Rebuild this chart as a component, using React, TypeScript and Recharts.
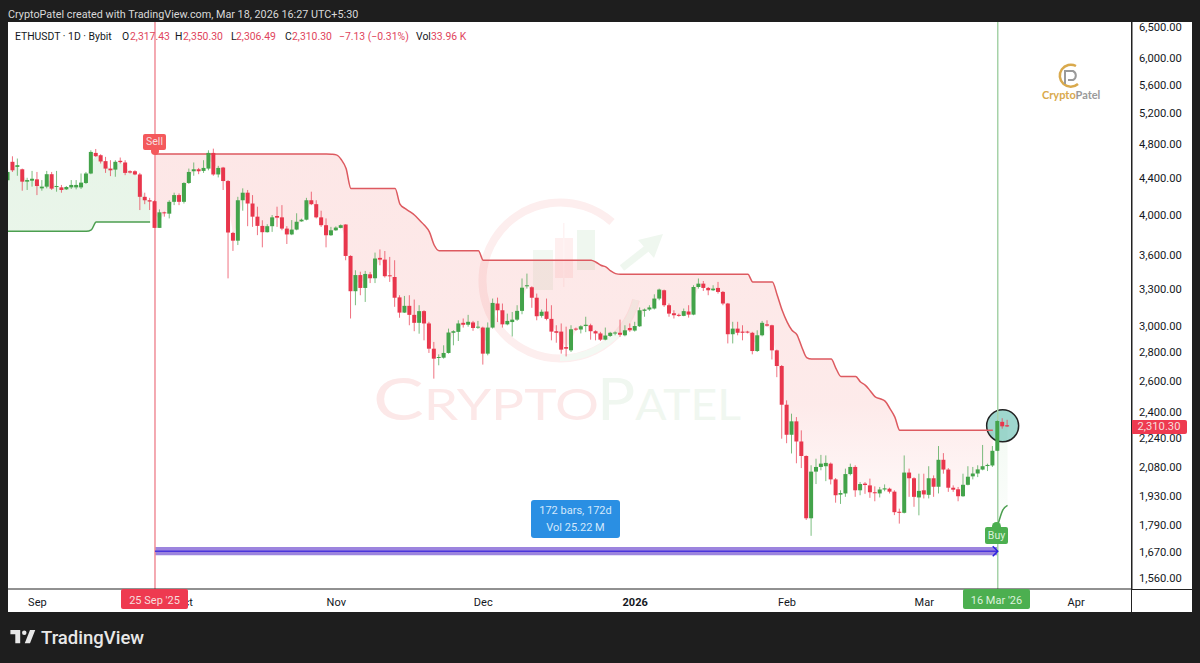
import React from "react";
import {
  Area,
  Bar,
  ComposedChart,
  Line,
  ReferenceArea,
  ReferenceDot,
  ReferenceLine,
  XAxis,
  YAxis,
} from "recharts";

// daily bars, first row is 30 days before the 25 Sep '25 sell signal
const opens = [
  4373, 4587, 4527, 4499, 4357, 4368, 4383, 4282, 4301, 4442,
  4297, 4293, 4271, 4293, 4293, 4293, 4342, 4450, 4694, 4666,
  4595, 4507, 4495, 4599, 4579, 4476, 4476, 4439, 4189, 4152,
  4142, 3865, 4024, 4010, 4135, 4208, 4135, 4342, 4476, 4499,
  4480, 4507, 4694, 4439, 4519, 4364, 3815, 3739, 4152, 4234,
  4117, 3979, 3885, 3822, 3882, 3986, 3972, 3858, 3800, 3848,
  3931, 3948, 4152, 4110, 3972, 3892, 3792, 3841, 3865, 3899,
  3594, 3280, 3420, 3308, 3427, 3392, 3576, 3560, 3418, 3403,
  3228, 3103, 3158, 3085, 3022, 3115, 3017, 2826, 2760, 2761,
  2795, 2945, 2952, 3022, 3007, 3025, 2985, 2985, 2790, 2985,
  3177, 3122, 3010, 3028, 3047, 3117, 3322, 3314, 3225, 3077,
  3112, 3053, 2957, 2954, 2838, 2814, 2977, 2970, 2997, 3003,
  2957, 2940, 2893, 2921, 2940, 2945, 2926, 2982, 2962, 2995,
  3117, 3128, 3136, 3218, 3288, 3163, 3098, 3085, 3077, 3112,
  3087, 3316, 3345, 3308, 3288, 3308, 3274, 3177, 2934, 2977,
  2954, 2954, 2945, 2809, 2926, 3010, 3003, 2814, 2702, 2444,
  2261, 2341, 2222, 2140, 1821, 2055, 2080, 2084, 2098, 2014,
  1936, 1942, 2042, 2080, 1958, 1992, 1983, 1948, 1942, 1962,
  1966, 1951, 1852, 1847, 2050, 2020, 1922, 1958, 1935, 2020,
  1976, 2119, 2066, 1971, 1963, 1928, 1986, 2030, 2045, 2066,
  2085, 2088, 2169, 2338, 2317.43,
];
const highs = [
  4507, 4653, 4626, 4507, 4401, 4480, 4468, 4375, 4480, 4468,
  4480, 4320, 4308, 4375, 4375, 4450, 4468, 4726, 4742, 4678,
  4646, 4606, 4606, 4638, 4606, 4487, 4487, 4457, 4234, 4178,
  4152, 4055, 4031, 4152, 4234, 4226, 4350, 4507, 4579, 4515,
  4606, 4726, 4746, 4539, 4527, 4375, 3825, 4189, 4282, 4264,
  4208, 4083, 3942, 3902, 3996, 4083, 4100, 3882, 3944, 4014,
  3958, 4178, 4245, 4152, 4041, 3961, 3875, 3880, 3900, 3902,
  3600, 3463, 3450, 3457, 3448, 3625, 3655, 3640, 3585, 3554,
  3246, 3240, 3246, 3210, 3163, 3122, 3030, 2876, 2785, 2851,
  2977, 2964, 3042, 3056, 3085, 3037, 3037, 2992, 3025, 3218,
  3226, 3177, 3095, 3108, 3163, 3390, 3433, 3322, 3260, 3128,
  3218, 3163, 3003, 3017, 2992, 3003, 2985, 3003, 3070, 3015,
  2964, 2952, 2985, 2952, 2955, 3047, 3003, 3017, 3030, 3145,
  3136, 3163, 3254, 3302, 3294, 3177, 3122, 3095, 3136, 3163,
  3331, 3390, 3368, 3316, 3331, 3360, 3282, 3182, 3030, 3030,
  3003, 2960, 2952, 2964, 3037, 3042, 3007, 2819, 2709, 2472,
  2388, 2367, 2287, 2143, 2089, 2125, 2146, 2143, 2104, 2021,
  1958, 2071, 2098, 2089, 2000, 2000, 2018, 1978, 1975, 1988,
  1971, 1958, 1867, 2143, 2071, 2025, 2044, 2044, 2084, 2035,
  2196, 2156, 2074, 1983, 1975, 2044, 2084, 2080, 2089, 2202,
  2098, 2196, 2347, 2360, 2350.3,
];
const lows = [
  4354, 4468, 4424, 4256, 4264, 4301, 4208, 4256, 4282, 4264,
  4245, 4234, 4264, 4275, 4271, 4275, 4331, 4442, 4646, 4567,
  4457, 4420, 4413, 4567, 4431, 4450, 4431, 4048, 4110, 4048,
  3865, 3865, 3979, 3961, 4100, 4100, 4117, 4331, 4424, 4442,
  4457, 4487, 4424, 4405, 4264, 3391, 3641, 3697, 4041, 3882,
  3875, 3793, 3675, 3819, 3825, 3875, 3841, 3707, 3793, 3841,
  3927, 3941, 4100, 3961, 3875, 3675, 3785, 3835, 3860, 3554,
  3056, 3163, 3246, 3190, 3350, 3350, 3508, 3398, 3360, 3150,
  3062, 3100, 3003, 2957, 2938, 2888, 2795, 2615, 2707, 2754,
  2790, 2851, 2883, 2985, 2992, 2960, 2975, 2712, 2778, 2977,
  3028, 2985, 3003, 2917, 3037, 3090, 3302, 3142, 3042, 3063,
  3042, 2888, 2870, 2790, 2770, 2802, 2960, 2940, 2950, 2893,
  2888, 2883, 2888, 2914, 2926, 2914, 2918, 2952, 2954, 2990,
  3070, 3117, 3128, 3204, 3150, 3070, 3056, 3070, 3074, 3063,
  3082, 3302, 3282, 3246, 3282, 3260, 3163, 2865, 2865, 2926,
  2888, 2940, 2785, 2802, 2918, 2992, 2748, 2625, 2238, 2212,
  2154, 2100, 2074, 1813, 1740, 1990, 2062, 2005, 1988, 1896,
  1890, 1925, 2035, 1925, 1933, 1940, 1920, 1903, 1922, 1953,
  1942, 1836, 1796, 1844, 1925, 1876, 1835, 1917, 1917, 1925,
  1942, 2044, 1950, 1950, 1903, 1925, 1983, 2014, 2026, 2062,
  2058, 2080, 2167, 2297, 2306.49,
];
const closes = [
  4468, 4487, 4547, 4357, 4375, 4390, 4308, 4301, 4442, 4279,
  4308, 4264, 4297, 4320, 4320, 4346, 4450, 4706, 4654, 4591,
  4507, 4487, 4587, 4583, 4457, 4461, 4439, 4189, 4152, 4138,
  3865, 4024, 4014, 4135, 4208, 4135, 4342, 4468, 4499, 4476,
  4515, 4694, 4439, 4515, 4364, 3819, 3739, 4152, 4234, 4117,
  3979, 3885, 3822, 3882, 3972, 3969, 3858, 3800, 3848, 3927,
  3948, 4152, 4110, 3972, 3892, 3792, 3841, 3868, 3892, 3594,
  3280, 3420, 3308, 3430, 3392, 3570, 3560, 3410, 3410, 3225,
  3103, 3158, 3085, 3022, 3115, 3017, 2826, 2754, 2766, 2795,
  2947, 2957, 3017, 3007, 3030, 2982, 2992, 2790, 2985, 3182,
  3122, 3010, 3037, 3047, 3117, 3310, 3331, 3225, 3074, 3110,
  3053, 2954, 2945, 2819, 2826, 2972, 2970, 2995, 3007, 2957,
  2940, 2893, 2924, 2945, 2947, 2930, 2964, 2964, 2997, 3122,
  3128, 3145, 3218, 3294, 3163, 3095, 3082, 3077, 3115, 3087,
  3316, 3345, 3308, 3288, 3302, 3274, 3177, 2934, 2977, 2945,
  2945, 2947, 2809, 2926, 3022, 3000, 2814, 2702, 2444, 2261,
  2341, 2222, 2140, 1821, 2055, 2080, 2098, 2102, 2014, 1933,
  1944, 2042, 2080, 1958, 1990, 1985, 1948, 1944, 1962, 1968,
  1951, 1850, 1847, 2050, 2020, 1925, 1955, 1937, 2020, 1976,
  2119, 2066, 1971, 1961, 1928, 1986, 2028, 2045, 2067, 2084,
  2091, 2169, 2343, 2311, 2310.3,
];

// trend line while short, one value per day from the sell signal
const sellTrend = [
  4682, 4682, 4682, 4682, 4682, 4682, 4682, 4682, 4682, 4682,
  4682, 4682, 4682, 4682, 4682, 4682, 4682, 4682, 4682, 4682,
  4682, 4682, 4682, 4682, 4682, 4682, 4682, 4682, 4682, 4682,
  4682, 4682, 4682, 4682, 4682, 4682, 4678, 4670, 4615, 4507,
  4279, 4279, 4279, 4279, 4279, 4279, 4279, 4279, 4279, 4279,
  4110, 4065, 4031, 3994, 3942, 3891, 3825, 3695, 3642, 3642,
  3642, 3642, 3642, 3642, 3642, 3642, 3642, 3554, 3554, 3554,
  3554, 3554, 3554, 3554, 3554, 3554, 3554, 3554, 3554, 3554,
  3554, 3554, 3554, 3554, 3554, 3554, 3554, 3554, 3554, 3554,
  3536, 3508, 3494, 3457, 3433, 3427, 3427, 3427, 3427, 3427,
  3427, 3427, 3427, 3427, 3427, 3427, 3427, 3427, 3427, 3427,
  3427, 3427, 3427, 3427, 3427, 3427, 3427, 3427, 3427, 3427,
  3427, 3427, 3360, 3360, 3360, 3360, 3360, 3246, 3122, 3030,
  2964, 2931, 2839, 2762, 2751, 2751, 2751, 2751, 2751, 2684,
  2630, 2630, 2630, 2630, 2592, 2570, 2533, 2494, 2482, 2467,
  2420, 2367, 2287, 2287, 2287, 2287, 2287, 2287, 2287, 2287,
  2287, 2287, 2287, 2287, 2287, 2287, 2287, 2287, 2287, 2287,
  2287, 2287,
];
const buyTrendBefore = [
  3831, 3831, 3831, 3831, 3831, 3831, 3831, 3831, 3831, 3831,
  3831, 3831, 3831, 3831, 3831, 3831, 3831, 3845, 3925, 3925,
  3925, 3925, 3925, 3925, 3925, 3925, 3925, 3925, 3925, 3925,
];
const buyTrendAfter = [1788, 1859, 1883];

const priceTicks = [
  1560, 1670, 1790, 1930, 2080, 2240, 2400, 2600, 2800, 3000, 3300, 3600, 4000,
  4400, 4800, 5200, 5600, 6000, 6500,
];
const monthTicks = [-24, 6, 37, 67, 98, 129, 157, 188];
const monthLabels = ["Sep", "Oct", "Nov", "Dec", "2026", "Feb", "Mar", "Apr"];

const UP = "#43a34a";
const DOWN = "#e8364c";
const INK = "#131722";
const FONT = "Roboto, sans-serif";

const rows = opens.map((open, i) => {
  const day = i - 30;
  const mid = (open + closes[i]) / 2;
  const sell = day >= 0 && day < sellTrend.length ? sellTrend[day] : null;
  const buy =
    day < 0 ? buyTrendBefore[i] : day >= 172 ? buyTrendAfter[day - 172] : null;
  return {
    day,
    open,
    high: highs[i],
    low: lows[i],
    close: closes[i],
    mid,
    sell,
    buy,
  };
});

function Candle(props: any) {
  const { x, y, width, height, payload } = props;
  const top = Math.min(y, y + height);
  const span = Math.abs(height);
  const { open, high, low, close } = payload;
  // bar spans low..high on the log axis, body is placed inside that span
  const at = (p: number) => top + (span * Math.log(high / p)) / Math.log(high / low);
  const bodyTop = at(Math.max(open, close));
  const bodyH = Math.max(at(Math.min(open, close)) - bodyTop, 1);
  const color = close >= open ? UP : DOWN;
  return (
    <g>
      <line
        x1={x + width / 2}
        x2={x + width / 2}
        y1={top}
        y2={top + span}
        stroke={color}
        strokeOpacity={0.7}
      />
      <rect x={x} y={bodyTop} width={width} height={bodyH} fill={color} />
    </g>
  );
}

function MonthTick(props: any) {
  const { x, y, payload } = props;
  const label = monthLabels[monthTicks.indexOf(payload.value)];
  return (
    <text
      x={x}
      y={y + 9}
      textAnchor="middle"
      fontFamily={FONT}
      fontSize={11}
      fontWeight={label === "2026" ? 700 : 400}
      fill={INK}
    >
      {label}
    </text>
  );
}

function Arrowhead(props: any) {
  const { cx, cy } = props;
  return (
    <path
      d={`M${cx - 5} ${cy - 5}L${cx} ${cy}L${cx - 5} ${cy + 5}`}
      fill="none"
      stroke="#2b22e0"
      strokeWidth={1.5}
    />
  );
}

function Label({ x, y, color = INK, children, size = 10.4, bold = false }: any) {
  return (
    <div
      style={{
        position: "absolute",
        left: x,
        top: y,
        color,
        fontSize: size,
        fontFamily: FONT,
        fontWeight: bold ? 700 : 400,
        whiteSpace: "nowrap",
        lineHeight: "14px",
      }}
    >
      {children}
    </div>
  );
}

function Tag({ x, y, w, h, bg, color = "#f6dede", children, size = 11, drop = 0 }: any) {
  return (
    <div
      style={{
        position: "absolute",
        left: x,
        top: y,
        width: w,
        height: h,
        lineHeight: `${h + drop}px`,
        background: bg,
        color,
        borderRadius: 2,
        textAlign: "center",
        fontSize: size,
        fontFamily: FONT,
        whiteSpace: "nowrap",
      }}
    >
      {children}
    </div>
  );
}

function Watermark() {
  return (
    <svg
      width={1200}
      height={663}
      style={{ position: "absolute", left: 0, top: 0 }}
    >
      <path
        d="M612 222A78 78 0 1 0 636 300"
        fill="none"
        stroke="#fdeeee"
        strokeWidth={8}
      />
      <path
        d="M636 300A78 78 0 0 1 560 358"
        fill="none"
        stroke="#f3f9f3"
        strokeWidth={6}
      />
      <rect x={533} y={250} width={20} height={40} fill="#f2f8f2" />
      <rect x={555} y={238} width={18} height={40} fill="#feefef" />
      <rect x={563} y={223} width={1.5} height={64} fill="#fef3f3" />
      <rect x={577} y={230} width={18} height={40} fill="#eff7ef" />
      <path d="M622 268L650 246" stroke="#eff7ef" strokeWidth={7} />
      <path d="M638 240L663 234L654 258Z" fill="#eff7ef" />
      <text
        x={373}
        y={420}
        fontFamily="Lato, sans-serif"
        fontSize={42}
        textLength={226}
        lengthAdjust="spacingAndGlyphs"
        fill="#fce8e8"
      >
        <tspan fontSize={58}>C</tspan>RYPTO
      </text>
      <text
        x={597}
        y={420}
        fontFamily="Lato, sans-serif"
        fontSize={42}
        textLength={144}
        lengthAdjust="spacingAndGlyphs"
        fill="#f0f7f0"
      >
        <tspan fontSize={58}>P</tspan>ATEL
      </text>
      {/* coin mark top right */}
      <path
        d="M1076 66A11 11 0 1 0 1078 84"
        fill="none"
        stroke="#d9a94c"
        strokeWidth={2.5}
      />
      <path
        d="M1065 84V71H1073A5 5 0 0 1 1073 80H1068"
        fill="none"
        stroke="#9a9a9a"
        strokeWidth={2}
      />
      <text
        x={1042}
        y={99}
        fontFamily="Lato, sans-serif"
        fontSize={11}
        fontWeight={700}
        fill="#d9a94c"
      >
        Crypto<tspan fill="#9a9a9a">Patel</tspan>
      </text>
    </svg>
  );
}

export default function App() {
  return (
    <div
      style={{
        position: "absolute",
        left: 0,
        top: 0,
        width: 1200,
        height: 663,
        background: "#1e1e1e",
        overflow: "hidden",
      }}
    >
      <Label x={8} y={8} color="#d9d9d9" size={10.8}>
        CryptoPatel created with TradingView.com, Mar 18, 2026 16:27 UTC+5:30
      </Label>
      <div
        style={{
          position: "absolute",
          left: 8,
          top: 22,
          width: 1184,
          height: 590,
          background: "#fff",
        }}
      />
      <Watermark />
      <div style={{ position: "absolute", left: 0, top: 0 }}>
        <ComposedChart
          width={1200}
          height={663}
          data={rows}
          margin={{ top: 22, right: 8, bottom: 51, left: 8 }}
        >
          <defs>
            <linearGradient id="sellFill" x1="0" y1="0" x2="0" y2="1">
              <stop offset="0%" stopColor="#ef5350" stopOpacity={0.14} />
              <stop offset="70%" stopColor="#ef5350" stopOpacity={0.12} />
              <stop offset="100%" stopColor="#ef5350" stopOpacity={0.03} />
            </linearGradient>
            <linearGradient id="buyFill" x1="0" y1="0" x2="0" y2="1">
              <stop offset="0%" stopColor="#4caf50" stopOpacity={0.13} />
              <stop offset="25%" stopColor="#4caf50" stopOpacity={0.12} />
              <stop offset="70%" stopColor="#4caf50" stopOpacity={0.07} />
              <stop offset="100%" stopColor="#4caf50" stopOpacity={0.02} />
            </linearGradient>
          </defs>
          <XAxis
            dataKey="day"
            type="number"
            domain={[-30, 199.4]}
            allowDataOverflow
            ticks={monthTicks}
            interval={0}
            height={23}
            tickLine={false}
            axisLine={{ stroke: "#222" }}
            tick={<MonthTick />}
          />
          <YAxis
            orientation="right"
            scale="log"
            type="number"
            domain={[1516, 6590]}
            allowDataOverflow
            ticks={priceTicks}
            interval={0}
            width={60}
            tickSize={0}
            tickMargin={7}
            tickLine={false}
            axisLine={{ stroke: "#222" }}
            tick={{ fontSize: 11.2, fontFamily: FONT, fill: INK }}
            tickFormatter={(v: number) =>
              v.toLocaleString("en-US", { minimumFractionDigits: 2 })
            }
          />
          <Area
            dataKey={(d: any) => (d.sell == null ? [null, null] : [d.mid, d.sell])}
            stroke="none"
            fill="url(#sellFill)"
            fillOpacity={1}
            isAnimationActive={false}
            dot={false}
            activeDot={false}
          />
          <Area
            dataKey={(d: any) => (d.buy == null ? [null, null] : [d.buy, d.mid])}
            stroke="none"
            fill="url(#buyFill)"
            fillOpacity={1}
            isAnimationActive={false}
            dot={false}
            activeDot={false}
          />
          <ReferenceLine x={0} stroke="#f08d98" strokeWidth={1.5} />
          <ReferenceLine x={172} stroke="#a6d2a8" strokeWidth={1.5} />
          <ReferenceArea
            x1={0}
            x2={172}
            y1={1655}
            y2={1690}
            fill="#8b6fd8"
            fillOpacity={0.85}
            stroke="none"
          />
          <ReferenceLine
            stroke="#4a35dc"
            strokeWidth={1.5}
            segment={[
              { x: 0, y: 1672 },
              { x: 172, y: 1672 },
            ]}
          />
          <ReferenceDot x={172} y={1672} shape={<Arrowhead />} />
          <ReferenceDot
            x={173}
            y={2314}
            r={16}
            fill="#5fbcae"
            fillOpacity={0.6}
            stroke="#222"
            strokeWidth={1.5}
            zIndex={200}
          />
          <Line
            dataKey="sell"
            type="monotone"
            stroke="#dd5a60"
            strokeWidth={1.5}
            dot={false}
            activeDot={false}
            isAnimationActive={false}
          />
          <Line
            dataKey="buy"
            type="monotone"
            stroke="#4c9f50"
            strokeWidth={1.5}
            dot={false}
            activeDot={false}
            isAnimationActive={false}
          />
          <Bar
            dataKey={(d: any) => [d.low, d.high]}
            barSize={4}
            shape={<Candle />}
            isAnimationActive={false}
            zIndex={700}
          />
        </ComposedChart>
      </div>

      {/* legend row */}
      <Label x={15} y={30}>ETHUSDT · 1D · Bybit</Label>
      <Label x={122} y={30}>O</Label>
      <Label x={130} y={30} color="#e0455c">2,317.43</Label>
      <Label x={175} y={30}>H</Label>
      <Label x={183} y={30} color="#e0455c">2,350.30</Label>
      <Label x={231} y={30}>L</Label>
      <Label x={236} y={30} color="#e0455c">2,306.49</Label>
      <Label x={285} y={30}>C</Label>
      <Label x={292} y={30} color="#e0455c">2,310.30</Label>
      <Label x={339} y={30} color="#e0455c">−7.13 (−0.31%)</Label>
      <Label x={416} y={30}>Vol</Label>
      <Label x={431} y={30} color="#e0455c">33.96 K</Label>

      {/* signal flags */}
      <div style={{ position: "absolute", left: 151, top: 147, width: 8, height: 8, borderRadius: 4, background: "#f4595c" }} />
      <Tag x={143} y={134} w={23} h={16} bg="#f4595c" size={10.5}>Sell</Tag>
      <Tag x={985} y={527} w={23} h={17} bg="#4caf50" color="#dcf2dd" size={10.5}>Buy</Tag>
      <div style={{ position: "absolute", left: 992, top: 522, width: 9, height: 9, borderRadius: 5, background: "#4caf50" }} />

      {/* date range stats */}
      <div
        style={{
          position: "absolute",
          left: 531,
          top: 500,
          width: 89,
          height: 38,
          borderRadius: 3,
          background: "#2a8fe3",
          color: "#d3e8fb",
          textAlign: "center",
          fontSize: 11,
          fontFamily: FONT,
          lineHeight: "17px",
          paddingTop: 2,
          boxSizing: "border-box",
        }}
      >
        172 bars, 172d
        <br />
        Vol 25.22 M
      </div>

      {/* last price and crosshair date tags */}
      <Tag x={1131} y={420} w={56} h={14} bg="#ee3a50" size={11.2}>2,310.30</Tag>
      <Tag x={121} y={589} w={67} h={20} bg="#ee3a50" drop={4}>25 Sep '25</Tag>
      <Tag x={963} y={589} w={67} h={20} bg="#4caf50" color="#dcf2dd" drop={4}>16 Mar '26</Tag>

      {/* axis separators across the price column */}
      <div style={{ position: "absolute", left: 1131, top: 22, width: 1, height: 590, background: "#222" }} />
      <div style={{ position: "absolute", left: 1131, top: 589, width: 61, height: 1, background: "#222" }} />

      {/* footer brand */}
      <svg width={26} height={14} viewBox="0 0 36 20" style={{ position: "absolute", left: 10, top: 630 }}>
        <path d="M14 0H0v6h7v13h7zM28 19h-7.5L28 0h7.5zM23 4a3.2 3.2 0 1 1-6.4 0 3.2 3.2 0 0 1 6.4 0z" fill="#e8e8e8" />
      </svg>
      <Label x={41} y={631} color="#e8e8e8" size={18.5}>
        <span style={{ fontWeight: 500 }}>TradingView</span>
      </Label>
    </div>
  );
}
